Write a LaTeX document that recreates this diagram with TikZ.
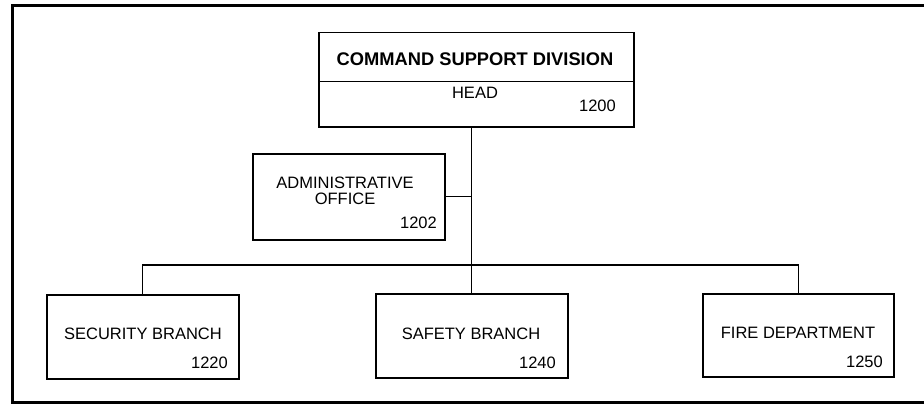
\documentclass[tikz,border=0pt]{standalone}
\usepackage{fontspec}
\setmainfont{Liberation Sans}
\begin{document}
\begin{tikzpicture}[x=1pt,y=-1pt,
  box/.style={draw=black,line width=1.5pt,rectangle,inner sep=0pt,anchor=north west},
  lbl/.style={inner sep=0pt,anchor=base,font=\fontsize{16.5}{17}\selectfont},
  num/.style={inner sep=0pt,anchor=base east,font=\fontsize{16.5}{17}\selectfont},
  frame/.style={line width=3pt},
  conn/.style={line width=1.3pt}]
\useasboundingbox (0,0) rectangle (924,404);
% frame
\coordinate (ftl) at (12,5.5);
\coordinate (ftr) at (924,5.5);
\coordinate (fbl) at (12,402);
\coordinate (fbr) at (924,402);
\draw[frame] (ftr) -- (ftl) -- (12,404);
\draw[frame] (fbl) -- (fbr);
% boxes
\node[box,minimum width=315pt,minimum height=49pt] (headtop) at (318,32) {};
\node[box,minimum width=315pt,minimum height=45pt] (head) at (318,81) {};
\node[box,minimum width=192pt,minimum height=86pt] (admin) at (252,153) {};
\node[box,minimum width=192pt,minimum height=84pt] (sec) at (46,294) {};
\node[box,minimum width=192pt,minimum height=84pt] (safe) at (375,293) {};
\node[box,minimum width=191pt,minimum height=83pt] (fire) at (702,293) {};
% texts
\node[lbl,font=\fontsize{18.3}{19}\selectfont\bfseries] (t0) at (475,66) {COMMAND SUPPORT DIVISION};
\node[lbl] (t1) at (475,99) {HEAD};
\node[num] (n1) at (616,111) {1200};
\node[lbl] (t2a) at (345,188) {ADMINISTRATIVE};
\node[lbl] (t2b) at (345,204) {OFFICE};
\node[num] (n2) at (437,228) {1202};
\node[lbl] (t3) at (143,339) {SECURITY BRANCH};
\node[num] (n3) at (228,368) {1220};
\node[lbl] (t4) at (471,339) {SAFETY BRANCH};
\node[num] (n4) at (556,368) {1240};
\node[lbl] (t5) at (798,338) {FIRE DEPARTMENT};
\node[num] (n5) at (883,367) {1250};
% connectors
\coordinate (bus) at (471,265);
\draw[conn] (head.south -| safe.north) -- (safe.north);
\draw[conn] (admin.east) -- (admin.east -| safe.north);
\draw[conn] (sec.north) |- (bus) -| (fire.north);
\end{tikzpicture}
\end{document}
